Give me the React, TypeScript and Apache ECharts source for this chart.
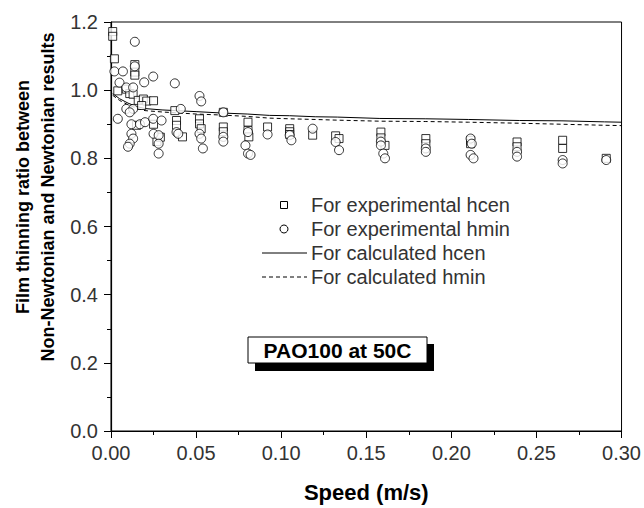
import React, { useEffect, useRef } from "react";
import * as echarts from "echarts";

const expHcen: number[][] = [
  [0.001, 1.172], [0.001, 1.158], [0.002, 1.092], [0.014, 1.075], [0.014, 1.053], [0.014, 1.044],
  [0.004, 0.998], [0.009, 1.003], [0.011, 0.99], [0.013, 0.988], [0.016, 0.97], [0.019, 0.974],
  [0.021, 0.968], [0.025, 0.969], [0.018, 0.955], [0.015, 0.897], [0.025, 0.9], [0.027, 0.849],
  [0.029, 0.862], [0.0375, 0.94], [0.0385, 0.911], [0.0385, 0.897], [0.042, 0.863],
  [0.052, 0.916], [0.052, 0.901], [0.053, 0.887], [0.066, 0.935], [0.066, 0.892], [0.066, 0.878],
  [0.0805, 0.906], [0.0805, 0.882], [0.081, 0.863], [0.092, 0.892],
  [0.105, 0.887], [0.105, 0.878], [0.105, 0.87], [0.1185, 0.868], [0.132, 0.866], [0.134, 0.858],
  [0.1586, 0.877], [0.1586, 0.86], [0.161, 0.838], [0.185, 0.858], [0.185, 0.843],
  [0.2113, 0.853], [0.2113, 0.843], [0.2386, 0.848], [0.2386, 0.834],
  [0.2654, 0.853], [0.2654, 0.829], [0.291, 0.8],
];

const expHmin: number[][] = [
  [0.014, 1.142], [0.014, 1.07], [0.002, 1.055], [0.007, 1.055], [0.0195, 1.023], [0.0248, 1.04],
  [0.005, 1.022], [0.009, 1.008], [0.013, 1.008], [0.0375, 1.02], [0.052, 0.983], [0.053, 0.967],
  [0.041, 0.945], [0.009, 0.945], [0.013, 0.945], [0.011, 0.935], [0.004, 0.916], [0.012, 0.9],
  [0.017, 0.9], [0.02, 0.906], [0.0248, 0.916], [0.0297, 0.911], [0.012, 0.872], [0.013, 0.858],
  [0.011, 0.843], [0.01, 0.834], [0.025, 0.872], [0.028, 0.868], [0.028, 0.843], [0.028, 0.814],
  [0.0385, 0.877], [0.0395, 0.872], [0.052, 0.872], [0.053, 0.858], [0.054, 0.829],
  [0.066, 0.935], [0.066, 0.863], [0.066, 0.849], [0.0805, 0.877], [0.079, 0.838],
  [0.0805, 0.814], [0.082, 0.81], [0.092, 0.87], [0.105, 0.868], [0.106, 0.853], [0.1185, 0.887],
  [0.132, 0.848], [0.134, 0.824], [0.1586, 0.849], [0.1586, 0.838], [0.16, 0.814], [0.161, 0.8],
  [0.185, 0.829], [0.185, 0.819], [0.2113, 0.858], [0.212, 0.843], [0.2113, 0.81], [0.213, 0.8],
  [0.2386, 0.819], [0.2386, 0.805], [0.2654, 0.795], [0.2654, 0.785], [0.291, 0.795],
];

const calcHcen: number[][] = [
  [0.001, 0.99], [0.005, 0.975], [0.01, 0.962], [0.015, 0.952], [0.02, 0.946], [0.03, 0.942],
  [0.05, 0.937], [0.065, 0.933], [0.08, 0.93], [0.093, 0.926], [0.105, 0.925], [0.12, 0.922],
  [0.133, 0.921], [0.158, 0.917], [0.185, 0.916], [0.21, 0.914], [0.24, 0.911], [0.265, 0.91],
  [0.29, 0.907], [0.3, 0.906],
];

const calcHmin: number[][] = [
  [0.001, 0.985], [0.005, 0.97], [0.01, 0.957], [0.015, 0.947], [0.02, 0.94], [0.03, 0.936],
  [0.05, 0.93], [0.065, 0.927], [0.08, 0.923], [0.093, 0.918], [0.105, 0.916], [0.12, 0.914],
  [0.133, 0.912], [0.158, 0.909], [0.185, 0.908], [0.21, 0.906], [0.24, 0.903], [0.265, 0.9],
  [0.29, 0.897], [0.3, 0.896],
];

const legendLabels = [
  "For experimental hcen",
  "For experimental hmin",
  "For calculated hcen",
  "For calculated hmin",
];
const sampleLabel = "PAO100 at 50C";
const yTitleLines = ["Film thinning ratio between", "Non-Newtonian and Newtonian results"];
const xTitle = "Speed (m/s)";

const FONT = "'Liberation Sans', Arial, sans-serif";

export default function App() {
  const ref = useRef<HTMLDivElement>(null);
  useEffect(() => {
    const chart = echarts.init(ref.current!, null, { renderer: "svg" });
    const pointStyle = { color: "#fff", borderColor: "#000", borderWidth: 1 };
    const legX = 284;
    const legY = [205, 229, 253, 277];
    chart.setOption({
      animation: false,
      backgroundColor: "#fff",
      textStyle: { fontFamily: FONT },
      grid: {
        left: 111, right: 21, top: 22, bottom: 72,
        show: true, borderColor: "#000", borderWidth: 1, backgroundColor: "transparent",
      },
      xAxis: {
        type: "value", min: 0, max: 0.3, interval: 0.05,
        name: xTitle, nameLocation: "middle", nameGap: 50,
        nameTextStyle: { fontFamily: FONT, fontSize: 22, fontWeight: "bold", color: "#000" },
        axisLine: { show: true, lineStyle: { color: "#000", width: 1.2 } },
        axisTick: { show: true, length: 7, lineStyle: { color: "#000" } },
        minorTick: { show: true, splitNumber: 2, length: 4, lineStyle: { color: "#000" } },
        splitLine: { show: false },
        axisLabel: {
          fontFamily: FONT, fontSize: 20, color: "#333", margin: 12,
          formatter: (v: number) => v.toFixed(2),
        },
      },
      yAxis: {
        type: "value", min: 0, max: 1.2, interval: 0.2,
        axisLine: { show: true, lineStyle: { color: "#000", width: 1.2 } },
        axisTick: { show: true, length: 7, lineStyle: { color: "#000" } },
        minorTick: { show: true, splitNumber: 2, length: 4, lineStyle: { color: "#000" } },
        splitLine: { show: false },
        axisLabel: {
          fontFamily: FONT, fontSize: 20, color: "#333", margin: 13,
          formatter: (v: number) => v.toFixed(1),
        },
      },
      series: [
        {
          name: legendLabels[2], type: "line", data: calcHcen, showSymbol: false, symbol: "none",
          lineStyle: { color: "#000", width: 1 }, z: 2,
        },
        {
          name: legendLabels[3], type: "line", data: calcHmin, showSymbol: false, symbol: "none",
          lineStyle: { color: "#000", width: 1, type: [4, 3] }, z: 2,
        },
        {
          name: legendLabels[0], type: "scatter", data: expHcen, symbol: "rect", symbolSize: 8,
          itemStyle: pointStyle, z: 3,
        },
        {
          name: legendLabels[1], type: "scatter", data: expHmin, symbol: "circle", symbolSize: 9,
          itemStyle: pointStyle, z: 3,
        },
      ],
      graphic: [
        ...yTitleLines.map((t, i) => ({
          type: "text", x: 23 + i * 25, y: 197, rotation: Math.PI / 2,
          style: {
            text: t, fontFamily: FONT, fontSize: 18, fontWeight: "bold", fill: "#000",
            textAlign: "center", textVerticalAlign: "middle",
          },
        })),
        {
          type: "rect", shape: { x: legX - 3.5, y: legY[0] - 3.5, width: 7, height: 7 },
          style: { fill: "#fff", stroke: "#000", lineWidth: 1 },
        },
        {
          type: "circle", shape: { cx: legX, cy: legY[1], r: 4 },
          style: { fill: "#fff", stroke: "#000", lineWidth: 1 },
        },
        {
          type: "line", shape: { x1: legX - 22, y1: legY[2], x2: legX + 23, y2: legY[2] },
          style: { stroke: "#000", lineWidth: 1 },
        },
        {
          type: "line", shape: { x1: legX - 22, y1: legY[3], x2: legX + 23, y2: legY[3] },
          style: { stroke: "#000", lineWidth: 1, lineDash: [4, 3] },
        },
        ...legendLabels.map((t, i) => ({
          type: "text", x: legX + 27, y: legY[i],
          style: {
            text: t, fontFamily: FONT, fontSize: 20, fill: "#333",
            textAlign: "left", textVerticalAlign: "middle",
          },
        })),
        {
          type: "rect", shape: { x: 255, y: 344, width: 179, height: 27 },
          style: { fill: "#000" },
        },
        {
          type: "rect", shape: { x: 248, y: 337, width: 179, height: 26 },
          style: { fill: "#fff", stroke: "#000", lineWidth: 1 },
        },
        {
          type: "text", x: 337.5, y: 350.5,
          style: {
            text: sampleLabel, fontFamily: FONT, fontSize: 21, fontWeight: "bold", fill: "#000",
            textAlign: "center", textVerticalAlign: "middle",
          },
        },
      ],
    });
    return () => chart.dispose();
  }, []);
  return (
    <div
      ref={ref}
      style={{ position: "fixed", left: 0, top: 0, width: 644, height: 508, background: "#fff" }}
    />
  );
}
